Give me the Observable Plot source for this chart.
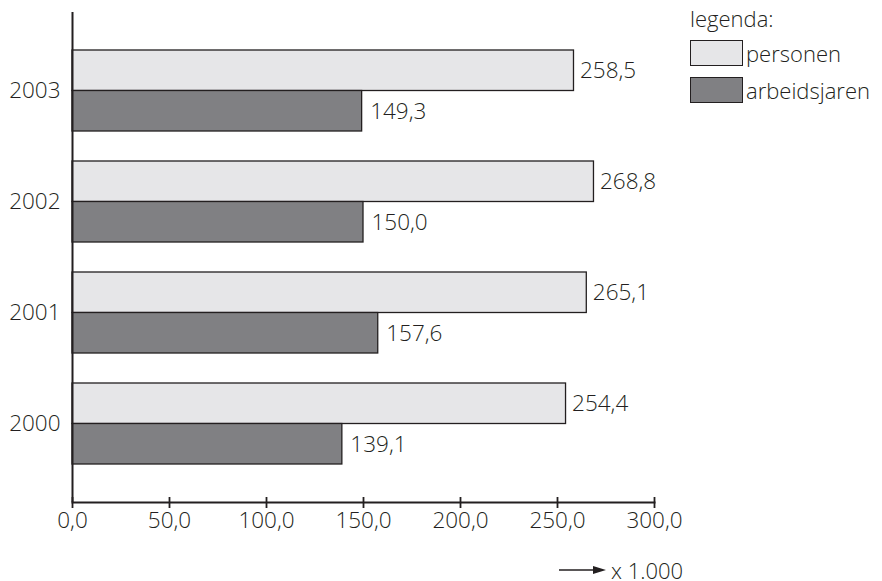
<!DOCTYPE html>
<html>
<head>
<meta charset="utf-8">
<script src="https://cdn.jsdelivr.net/npm/d3@7"></script>
<script src="https://cdn.jsdelivr.net/npm/@observablehq/plot@0.6"></script>
<style>
  html, body { margin: 0; padding: 0; background: #fff; }
  #wrap { position: relative; width: 882px; height: 581px; font-family: "Open Sans", sans-serif; font-weight: 350; color: #231f20; }
  #chart svg { display: block; }
  #legend { position: absolute; left: 690px; top: 5px; font-size: 22px; line-height: 26px; }
  #legend .title { height: 35px; }
  #legend .row { display: flex; align-items: center; height: 26px; margin-bottom: 11px; }
  #legend .sw { width: 53px; height: 26px; border: 1.5px solid #231f20; margin-right: 3px; box-sizing: border-box; }
  #caption { position: absolute; left: 559px; top: 559px; font-size: 22px; line-height: 22px; display: flex; align-items: center; }
  #caption svg { margin-right: 4px; display: block; }
  svg text { font-weight: 350; }
</style>
</head>
<body>
<div id="wrap">
  <div id="chart"></div>
  <div id="legend"></div>
  <div id="caption"></div>
</div>
<script>
const years = ["2003", "2002", "2001", "2000"];
const personen = [258.5, 268.8, 265.1, 254.4];
const arbeidsjaren = [149.3, 150.0, 157.6, 139.1];
const xTicks = [0, 50, 100, 150, 200, 250, 300];
const seriesNames = ["personen", "arbeidsjaren"];
const seriesColors = ["#e6e6e8", "#808083"];
const strokeColor = "#231f20";

const fmt = d => d.toFixed(1).replace(".", ",");
const rowsP = years.map((y, i) => ({year: y, value: personen[i]}));
const rowsA = years.map((y, i) => ({year: y, value: arbeidsjaren[i]}));

const bandwidth = 81;
const half = bandwidth / 2;
const fontFam = "Open Sans, sans-serif";
const fs = 22.5;

const chart = Plot.plot({
  width: 882,
  height: 581,
  marginLeft: 72,
  marginRight: 228,
  marginTop: 12,
  marginBottom: 79,
  style: {fontFamily: fontFam, fontSize: fs + "px", fontWeight: 350, color: strokeColor, background: "#fff"},
  x: {domain: [0, 300], axis: null, label: null},
  y: {domain: years, range: [19.2, 494.7], padding: 0.272, axis: null, label: null},
  marks: [
    Plot.barX(rowsP, {x: "value", y: "year", insetBottom: half, fill: seriesColors[0], stroke: strokeColor, strokeWidth: 1.3}),
    Plot.barX(rowsA, {x: "value", y: "year", insetTop: half, fill: seriesColors[1], stroke: strokeColor, strokeWidth: 1.3}),
    Plot.text(rowsP, {x: "value", y: "year", text: d => fmt(d.value), dx: 6, dy: -20, textAnchor: "start", fill: strokeColor, fontSize: fs}),
    Plot.text(rowsA, {x: "value", y: "year", text: d => fmt(d.value), dx: 8, dy: 21, textAnchor: "start", fill: strokeColor, fontSize: fs}),
    Plot.axisY({tickSize: 0, tickPadding: 12, fontSize: fs, fill: strokeColor, label: null}),
    Plot.axisX(xTicks, {tickSize: 11, dy: -5, tickPadding: 4, tickFormat: fmt, fontSize: fs, stroke: strokeColor, strokeWidth: 1.8, fill: strokeColor, label: null}),
    Plot.ruleX([0], {stroke: strokeColor, strokeWidth: 2}),
    Plot.frame({anchor: "bottom", stroke: strokeColor, strokeWidth: 2})
  ]
});
document.getElementById("chart").appendChild(chart);

const legend = document.getElementById("legend");
legend.innerHTML = `<div class="title">legenda:</div>` +
  seriesNames.map((n, i) => `<div class="row"><div class="sw" style="background:${seriesColors[i]}"></div><span>${n}</span></div>`).join("");

document.getElementById("caption").innerHTML =
  `<svg width="48" height="10"><line x1="0" y1="5" x2="38" y2="5" stroke="${strokeColor}" stroke-width="1.5"/><path d="M34,1 L47,5 L34,9 Z" fill="${strokeColor}"/></svg><span>x 1.000</span>`;
</script>
</body>
</html>
